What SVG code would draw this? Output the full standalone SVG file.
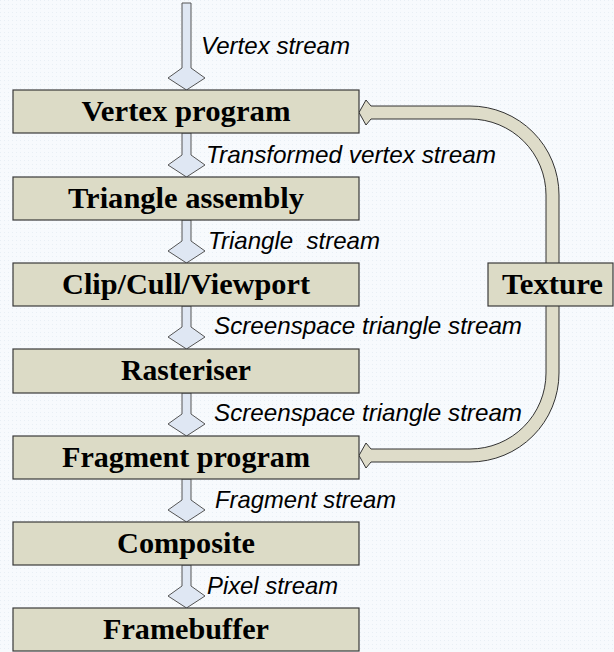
<svg xmlns="http://www.w3.org/2000/svg" width="614" height="652" viewBox="0 0 614 652">
<defs>
<pattern id="dots" width="4" height="4" patternUnits="userSpaceOnUse">
<rect width="4" height="4" fill="#f7fafd"/>
<rect width="1" height="1" fill="#e8eff5"/>
</pattern>
<style>
.box{fill:#dcdbc6;stroke:#3a3a3a;stroke-width:1.2}
.lbl{font-family:"Liberation Serif","Times New Roman",serif;font-weight:bold;font-size:29px;fill:#000;text-anchor:middle}
.flow{fill:#dfe7f3;stroke:#555;stroke-width:1}
.it{font-family:"Liberation Sans",Arial,sans-serif;font-style:italic;font-size:24px;fill:#000;white-space:pre}
.tex{fill:#dedcc9;stroke:#333;stroke-width:1}
</style>
</defs>
<rect width="614" height="652" fill="url(#dots)"/>
<g id="connectors">
<path class="tex" d="M359,112.5 L366,100 L371,106 L470,106 A89,89 0 0 1 559,195 L559,373 A89,89 0 0 1 470,462 L371,462 L366,468 L359,455.5 L366,443 L371,449 L470,449 A76,76 0 0 0 546,373 L546,195 A76,76 0 0 0 470,119 L371,119 L366,125 Z"/>
<path class="flow" d="M182,3 L191,3 L191,68 L205,78 L186.5,90 L168,78 L182,68 Z"/>
<path class="flow" d="M182,133 L191,133 L191,155 L205,165 L186.5,177 L168,165 L182,155 Z"/>
<path class="flow" d="M182,220 L191,220 L191,241 L205,251 L186.5,263 L168,251 L182,241 Z"/>
<path class="flow" d="M182,306 L191,306 L191,327 L205,337 L186.5,349 L168,337 L182,327 Z"/>
<path class="flow" d="M182,393 L191,393 L191,414 L205,424 L186.5,436 L168,424 L182,414 Z"/>
<path class="flow" d="M182,479 L191,479 L191,500 L205,510 L186.5,522 L168,510 L182,500 Z"/>
<path class="flow" d="M182,565 L191,565 L191,586 L205,596 L186.5,608 L168,596 L182,586 Z"/>
<text class="it" x="201" y="54" textLength="149" lengthAdjust="spacingAndGlyphs">Vertex stream</text>
<text class="it" x="206" y="163" textLength="290" lengthAdjust="spacingAndGlyphs">Transformed vertex stream</text>
<text class="it" x="208" y="249" textLength="172" lengthAdjust="spacingAndGlyphs">Triangle  stream</text>
<text class="it" x="214" y="334" textLength="308" lengthAdjust="spacingAndGlyphs">Screenspace triangle stream</text>
<text class="it" x="214" y="421" textLength="308" lengthAdjust="spacingAndGlyphs">Screenspace triangle stream</text>
<text class="it" x="215" y="508" textLength="181" lengthAdjust="spacingAndGlyphs">Fragment stream</text>
<text class="it" x="207" y="594" textLength="131" lengthAdjust="spacingAndGlyphs">Pixel stream</text>
</g>
<g id="vertex-program"><rect class="box" x="13" y="90" width="346" height="43"/><text class="lbl" x="186" y="121" textLength="209" lengthAdjust="spacingAndGlyphs">Vertex program</text></g>
<g id="triangle-assembly"><rect class="box" x="13" y="177" width="346" height="43"/><text class="lbl" x="186" y="208" textLength="236" lengthAdjust="spacingAndGlyphs">Triangle assembly</text></g>
<g id="clip-cull-viewport"><rect class="box" x="13" y="263" width="346" height="43"/><text class="lbl" x="186" y="294" textLength="248" lengthAdjust="spacingAndGlyphs">Clip/Cull/Viewport</text></g>
<g id="rasteriser"><rect class="box" x="13" y="349" width="346" height="44"/><text class="lbl" x="186" y="380" textLength="130" lengthAdjust="spacingAndGlyphs">Rasteriser</text></g>
<g id="fragment-program"><rect class="box" x="13" y="436" width="346" height="43"/><text class="lbl" x="186" y="467" textLength="248" lengthAdjust="spacingAndGlyphs">Fragment program</text></g>
<g id="composite"><rect class="box" x="13" y="522" width="346" height="43"/><text class="lbl" x="186" y="553" textLength="138" lengthAdjust="spacingAndGlyphs">Composite</text></g>
<g id="framebuffer"><rect class="box" x="13" y="608" width="346" height="43"/><text class="lbl" x="186" y="639" textLength="166" lengthAdjust="spacingAndGlyphs">Framebuffer</text></g>
<g id="texture"><rect class="box" x="488" y="263" width="125" height="43"/><text class="lbl" x="552.5" y="294" textLength="101" lengthAdjust="spacingAndGlyphs">Texture</text></g>
</svg>
